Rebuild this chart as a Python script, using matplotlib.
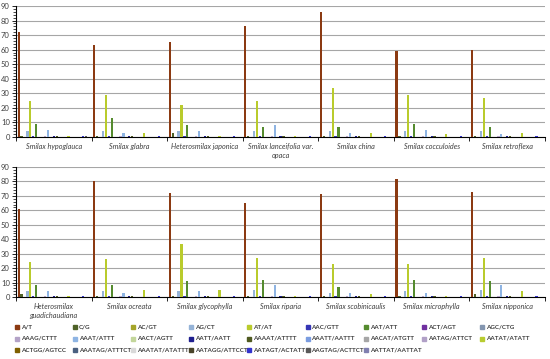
import numpy as np
import matplotlib.pyplot as plt
from matplotlib.patches import Rectangle

plt.rcParams["font.family"] = ["Lato", "DejaVu Sans"]

motifs = ["A/T", "C/G", "AC/GT", "AG/CT", "AT/AT", "AAC/GTT", "AAT/ATT", "ACT/AGT", "AGC/CTG",
          "AAAG/CTTT", "AAAT/ATTT", "AACT/AGTT", "AATT/AATT", "AAAAT/ATTTT", "AAATT/AATTT",
          "AACAT/ATGTT", "AATAG/ATTCT", "AATAT/ATATT", "ACTGG/AGTCC", "AAATAG/ATTTCT",
          "AAATAT/ATATTT", "AATAGG/ATTCCT", "AATAGT/ACTATT", "AAGTAG/ACTTCT", "AATTAT/AATTAT"]
colors = ["#8B3A12", "#4F6228", "#A5A52A", "#95B3D7", "#B9CB2C", "#3535B5", "#558B2F", "#7030A0",
          "#8496B0", "#B3A2C7", "#8EB4E3", "#C3D69B", "#1F1F8F", "#4F5A20", "#7A9CE0",
          "#A6A6A6", "#B1A0C7", "#B8CC30", "#7F6000", "#4A6080", "#D9D9D9", "#494429",
          "#3333CC", "#595959", "#8080B0"]

species_top = ["Smilax hypoglauca", "Smilax glabra", "Heterosmilax japonica",
               "Smilax lanceifolia var.\nopaca", "Smilax china", "Smilax cocculoides",
               "Smilax retroflexa"]
species_bottom = ["Heterosmilax\nguadichaudiana", "Smilax ocreata", "Smilax glycophylla",
                  "Smilax riparia", "Smilax scobinicaulis", "Smilax microphylla",
                  "Smilax nipponica"]

# counts per species, one list per motif order above
counts_top = [
    [72, 1, 0, 4, 25, 1, 9, 0, 0, 1, 5, 0, 1, 1, 0, 0, 0, 1, 0, 0, 0, 0, 1, 1, 0],
    [63, 1, 0, 4, 29, 1, 13, 0, 0, 1, 3, 0, 1, 1, 0, 0, 0, 3, 0, 0, 0, 0, 1, 0, 0],
    [65, 3, 0, 4, 22, 1, 8, 0, 0, 1, 4, 0, 1, 1, 0, 0, 0, 1, 0, 0, 0, 0, 1, 0, 0],
    [76, 1, 0, 4, 25, 1, 7, 0, 0, 1, 8, 0, 1, 1, 0, 0, 0, 1, 0, 0, 0, 0, 1, 0, 0],
    [86, 1, 0, 4, 34, 1, 7, 0, 0, 1, 3, 0, 1, 1, 0, 0, 0, 3, 0, 0, 0, 0, 1, 0, 0],
    [59, 1, 0, 4, 29, 1, 9, 0, 0, 1, 5, 0, 1, 1, 0, 0, 0, 2, 0, 0, 0, 0, 1, 0, 0],
    [60, 1, 0, 4, 27, 1, 7, 0, 0, 1, 2, 0, 1, 1, 0, 0, 0, 3, 0, 0, 0, 0, 1, 0, 0],
]
counts_bottom = [
    [61, 2, 0, 4, 24, 1, 8, 0, 0, 1, 4, 0, 1, 1, 0, 0, 0, 1, 0, 0, 0, 0, 1, 0, 0],
    [80, 1, 0, 4, 26, 1, 8, 0, 0, 1, 3, 0, 1, 1, 0, 0, 0, 5, 0, 0, 0, 0, 1, 0, 0],
    [72, 1, 0, 4, 37, 1, 11, 0, 0, 1, 4, 0, 1, 1, 0, 0, 0, 5, 0, 0, 0, 0, 1, 0, 0],
    [65, 1, 0, 5, 27, 1, 12, 0, 0, 1, 8, 0, 1, 1, 0, 0, 0, 1, 0, 0, 0, 0, 1, 0, 0],
    [71, 1, 0, 3, 23, 1, 7, 0, 0, 1, 3, 0, 1, 1, 0, 0, 0, 2, 0, 0, 0, 0, 1, 0, 0],
    [82, 1, 0, 4, 23, 1, 12, 0, 0, 1, 3, 0, 1, 1, 0, 0, 0, 1, 0, 0, 0, 0, 1, 0, 0],
    [73, 2, 0, 5, 27, 1, 11, 0, 0, 1, 8, 0, 1, 1, 0, 0, 0, 4, 0, 0, 0, 0, 1, 0, 0],
]

W, H = 550, 359
fig = plt.figure(figsize=(W / 100, H / 100), dpi=100)
ax_top = fig.add_axes([16 / W, 1 - 137 / H, 529 / W, 131 / H])
ax_bot = fig.add_axes([16 / W, 1 - 297 / H, 529 / W, 130 / H])

n = len(motifs)
slot = 1.0 / (n + 0.8)


def draw_panel(ax, species, counts):
    data = np.array(counts)
    x = np.arange(len(species))
    for i in range(n):
        pos = x - 0.5 + slot * 0.4 + slot * (i + 0.5)
        ax.bar(pos, data[:, i], width=slot * 0.75, color=colors[i], edgecolor="none", zorder=3)
    ax.set_xlim(-0.5, len(species) - 0.5)
    ax.set_ylim(0, 90)
    ax.set_yticks(np.arange(0, 91, 10))
    ax.set_yticks(np.arange(0, 91, 2), minor=True)
    ax.yaxis.grid(True, color="#A6A6A6", linewidth=0.8, zorder=0)
    ax.set_xticks(x)
    ax.set_xticklabels(species, fontsize=5.2, style="italic", color="#404040",
                       linespacing=1.35)
    ax.set_xticks(np.arange(-0.5, len(species), 1.0), minor=True)
    ax.tick_params(axis="x", which="major", length=0, pad=4)
    ax.tick_params(axis="x", which="minor", length=3, direction="out", width=0.6)
    ax.tick_params(axis="y", which="major", labelsize=5.5, length=3, width=0.6, pad=1.5,
                   labelcolor="#404040")
    ax.tick_params(axis="y", which="minor", length=2, width=0.5)
    for s in ["top", "right"]:
        ax.spines[s].set_visible(False)
    ax.spines["left"].set_linewidth(0.8)
    ax.spines["bottom"].set_linewidth(0.8)


draw_panel(ax_top, species_top, counts_top)
draw_panel(ax_bot, species_bottom, counts_bottom)

# legend, filled row by row in 9 equal columns
ncol = 9
col_x0, col_dx = 15, 58.1
row_y0, row_dy = 327, 11.5
for k in range(n):
    r, c = divmod(k, ncol)
    xs = col_x0 + c * col_dx
    ys = row_y0 + r * row_dy
    fig.add_artist(Rectangle((xs / W, 1 - (ys + 2) / H), 4 / W, 4 / H,
                             transform=fig.transFigure, color=colors[k]))
    fig.text((xs + 6) / W, 1 - ys / H, motifs[k], fontsize=4.5, fontweight="bold",
             color="#404040", va="center", ha="left")

fig.savefig("out.png", dpi=100)
